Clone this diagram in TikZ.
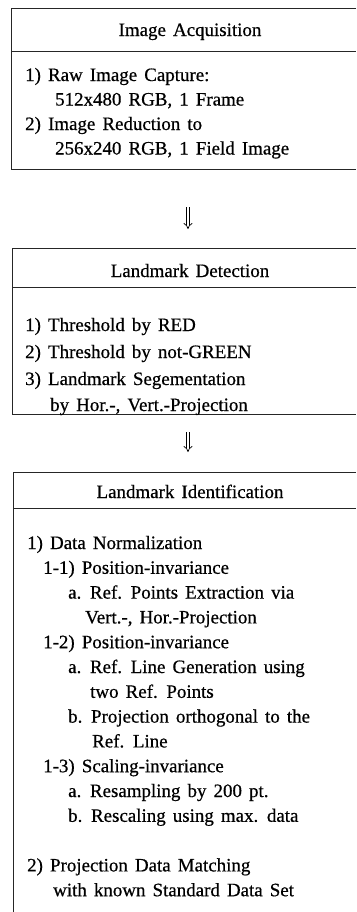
\documentclass[tikz,border=0pt]{standalone}
\usepackage{fontspec}
\setmainfont{Liberation Serif}[WordSpace=1.5, FakeBold=0.6]
\usetikzlibrary{arrows.meta}
\begin{document}
\begin{tikzpicture}[x=1bp,y=-1bp,
  frame/.style={line width=1bp, black!85},
  txt/.style={anchor=base west, inner sep=0pt, font=\fontsize{19}{22}\selectfont},
  ttl/.style={anchor=base, inner sep=0pt, font=\fontsize{19}{22}\selectfont},
  flow/.style={double, double distance=2.4bp, line width=0.7bp, -{Implies}}]
\useasboundingbox (0,0) rectangle (356,912);
% Box 1
\draw[frame] (356,8) -- (11,8) -- (11,169) -- (356,169);
\draw[frame] (11,51) -- (356,51);
\node[ttl] (t1) at (190,36) {Image Acquisition};
\node[txt] (b1l1) at (25,81) {1) Raw Image Capture:};
\node[txt] (b1l2) at (55,105.5) {512x480 RGB, 1 Frame};
\node[txt] (b1l3) at (25,130) {2) Image Reduction to};
\node[txt] (b1l4) at (55,154.5) {256x240 RGB, 1 Field Image};
% Arrow 1
\coordinate (a1s) at (188,207);
\coordinate (a1e) at (188,229);
\draw[flow] (a1s) -- (a1e);
% Box 2
\draw[frame] (356,248) -- (12,248) -- (12,414) -- (356,414);
\draw[frame] (12,287) -- (356,287);
\node[ttl] (t2) at (190,277) {Landmark Detection};
\node[txt] (b2l1) at (25,331) {1) Threshold by RED};
\node[txt] (b2l2) at (25,358) {2) Threshold by not-GREEN};
\node[txt] (b2l3) at (25,385) {3) Landmark Segementation};
\node[txt] (b2l4) at (50,411) {by Hor.-, Vert.-Projection};
% Arrow 2
\coordinate (a2s) at (188,432);
\coordinate (a2e) at (188,452);
\draw[flow] (a2s) -- (a2e);
% Box 3
\draw[frame] (356,472) -- (13,472) -- (13,912);
\draw[frame] (13,508) -- (356,508);
\node[ttl] (t3) at (190,498) {Landmark Identification};
\node[txt] (b3l1) at (27,549) {1) Data Normalization};
\node[txt] (b3l2) at (43,573.8) {1-1) Position-invariance};
\node[txt] (b3l3) at (68,598.6) {a. Ref. Points Extraction via};
\node[txt] (b3l4) at (85,623.4) {Vert.-, Hor.-Projection};
\node[txt] (b3l5) at (43,648.2) {1-2) Position-invariance};
\node[txt] (b3l6) at (68,673) {a. Ref. Line Generation using};
\node[txt] (b3l7) at (90,697.8) {two Ref. Points};
\node[txt] (b3l8) at (68,722.6) {b. Projection orthogonal to the};
\node[txt] (b3l9) at (92,747.4) {Ref. Line};
\node[txt] (b3l10) at (43,772.2) {1-3) Scaling-invariance};
\node[txt] (b3l11) at (68,797) {a. Resampling by 200 pt.};
\node[txt] (b3l12) at (68,821.8) {b. Rescaling using max. data};
\node[txt] (b3l13) at (27,871.4) {2) Projection Data Matching};
\node[txt] (b3l14) at (53,896.2) {with known Standard Data Set};
\end{tikzpicture}
\end{document}
